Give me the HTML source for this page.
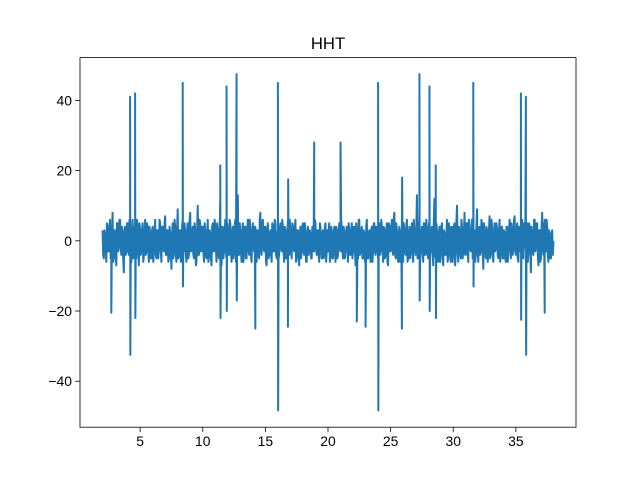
<!DOCTYPE html>
<html><head><meta charset="utf-8"><style>
html,body{margin:0;padding:0;background:#fff;}
svg{display:block;font-family:"Liberation Sans","DejaVu Sans",sans-serif;}
</style></head><body>
<svg id="chart" width="640" height="480">
<rect width="640" height="480" fill="#fff"/>
<text x="328" y="49" text-anchor="middle" font-size="16.7">HHT</text>
<g id="plot"></g>
<rect x="80" y="57.6" width="496" height="369.6" fill="none" stroke="#000" stroke-width="0.8"/>
<g id="xticks"></g><g id="yticks"></g>
</svg>
<script>
const noiseStart = 2.0;
const noiseStep = 0.1;
const noiseValues = [
3,-5,2,-6,4,-3,6,-4,8,-5,3,-7,5,-2,6,-4,2,-9,4,-3,
5,-4,3,-6,6,-3,2,-5,4,-7,3,-2,5,-4,6,-3,4,-6,2,-5,
4,-3,6,-5,3,-2,5,-6,4,-3,7,-4,3,-5,2,-8,5,-3,4,-6,
9,-4,3,-5,6,-3,2,-6,5,-4,8,-3,4,-5,3,-6,10,-4,5,-3,
4,-6,3,-5,6,-4,2,-7,5,-3,4,-6,3,-5,12,-7,4,-3,6,-5,
3,-4,5,-6,4,-3,6,-5,13,-4,3,-6,5,-3,4,-5,6,-4,3,-6,
5,-3,4,-6,3,-5,8,-4,6,-3,4,-7,5,-4,3,-6,4,-3,5,-5,
3,-4,5,-3,4,-6,3,-5,6,-4,2,-5,4,-3,6,-5,3,-7,4,-3,
5,-4,3,-6,4,-3,2,-5,4,-3,5,-4,3,-6,4,-5,3,-4,5,-3,
-3,5,-4,3,-5,4,-6,3,-4,5,-3,4,-5,2,-3,4,-6,3,-4,5,
-3,4,-7,3,-5,6,-3,4,-5,2,-4,6,-5,3,-6,4,-3,5,-4,3,
-5,5,-3,4,-6,3,-4,5,-7,4,-3,6,-4,8,-5,3,-6,4,-3,5,
-6,3,-4,6,-5,4,-3,5,-6,3,-4,13,-5,6,-3,4,-6,5,-4,3,
-5,6,-3,4,-7,12,-5,3,-6,4,-3,5,-7,2,-4,6,-5,3,-6,4,
-3,5,-4,10,-6,3,-5,4,-3,8,-4,5,-6,2,-3,6,-5,3,-4,9,
-6,4,-3,5,-8,2,-5,3,-4,7,-3,4,-6,5,-2,3,-5,6,-3,4,
-5,2,-6,4,-3,6,-5,3,-2,7,-4,5,-6,2,-3,6,-5,3,-4,5,
-3,4,-9,2,-4,6,-2,5,-7,3,-5,8,-4,6,-3,4,-6,2,-5,3,0
];
const noise2Start = 2.05;
const noise2Values = [
-4,3,-2,5,-3,4,-5,2,-6,3,-4,5,-3,6,-2,4,-5,3,-4,5,
-3,6,-4,2,-5,4,-3,6,-2,5,-4,3,-6,2,-4,5,-3,4,-5,3,
-6,2,-4,3,-5,6,-3,4,-2,5,-4,3,-6,4,-3,2,-5,6,-4,3,
-5,3,-6,4,-2,5,-4,3,-5,6,-3,2,-4,5,-7,3,-4,6,-3,4,
-3,5,-4,2,-6,3,-5,4,-3,6,-2,5,-4,3,-6,4,-5,2,-3,5,
-4,6,-3,2,-5,4,-6,3,-4,5,-3,2,-6,4,-5,3,-2,6,-4,3,
-2,4,-5,3,-4,6,-3,5,-2,4,-6,3,-5,2,-4,5,-3,6,-4,2,
-5,3,-2,6,-3,4,-5,2,-4,6,-3,5,-2,4,-6,3,-4,2,-5,4,
-3,5,-6,2,-4,3,-5,4,-3,6,-2,3,-4,5,-3,2,-5,4,-6,3,
3,-6,4,-5,2,-3,4,-5,3,-2,6,-3,4,-5,3,-2,5,-4,3,-5,
4,-2,5,-3,6,-4,2,-5,3,-6,4,-5,2,-4,3,-6,5,-3,4,-2,
3,-4,6,-2,4,-5,3,-6,5,-3,4,-2,6,-3,5,-4,2,-6,3,-4,
5,-3,4,-6,2,-5,3,-4,6,-2,3,-5,4,-6,2,-3,5,-4,6,-3,
4,-5,3,-2,6,-4,5,-3,2,-6,4,-5,3,-4,2,-6,5,-3,4,-6,
4,-7,5,-2,4,-3,6,-5,2,-4,5,-3,6,-2,4,-5,3,-6,4,-3,
3,-4,6,-3,5,-2,4,-6,3,-5,6,-4,2,-3,5,-4,3,-6,4,-5,
3,-5,4,-6,3,-2,5,-4,6,-3,2,-5,4,-3,6,-4,5,-2,3,-6,
5,-3,4,-2,6,-3,5,-4,3,-6,4,-2,5,-3,6,-4,3,-5,2,-4
];
const spikeTimes  = [2.7,4.2,4.22,4.6,4.62,8.4,8.42,11.4,11.42,11.9,11.92,12.7,12.72,14.2,16.0,16.02,16.8,16.82,18.9,21.0,22.3,23.0,24.0,24.02,25.9,25.92,27.3,27.32,28.1,28.12,28.6,28.62,31.6,31.62,35.4,35.42,35.8,35.82,37.3];
const spikeValues = [-20.5,41,-32.5,42,-22,45,-13,21.5,-22,44,-20,47.5,-17,-25,45,-48.3,-24.5,17.5,28,28,-23,-24.5,45,-48.3,-25,18,47.5,-17,44,-20,21.5,-22,45,-13,42,-22.5,41,-32.5,-20.5];
const xTicks = [5,10,15,20,25,30,35];
const yTicks = [-40,-20,0,20,40];

const X0=80,X1=576,Y0=57.6,Y1=427.2, xmin=0.2,xmax=39.8,ymin=-53.1,ymax=52.2;
const sx=v=>X0+(v-xmin)/(xmax-xmin)*(X1-X0);
const sy=v=>Y1-(v-ymin)/(ymax-ymin)*(Y1-Y0);
const NS="http://www.w3.org/2000/svg";
let pts=noiseValues.map((v,i)=>[noiseStart+i*noiseStep,v]);
noise2Values.forEach((v,i)=>pts.push([noise2Start+i*noiseStep,v]));
spikeTimes.forEach((t,i)=>pts.push([t,spikeValues[i]]));
pts.sort((a,b)=>a[0]-b[0]);
const path=document.createElementNS(NS,"path");
path.setAttribute("d",pts.map((p,i)=>(i?"L":"M")+sx(p[0]).toFixed(2)+" "+sy(p[1]).toFixed(2)).join(""));
path.setAttribute("fill","none");path.setAttribute("stroke","#1f77b4");path.setAttribute("stroke-width","2");path.setAttribute("stroke-linejoin","round");


document.getElementById("plot").appendChild(path);
const xg=document.getElementById("xticks");
xTicks.forEach(t=>{
  const l=document.createElementNS(NS,"line");
  l.setAttribute("x1",sx(t));l.setAttribute("x2",sx(t));l.setAttribute("y1",Y1);l.setAttribute("y2",Y1+4.9);l.setAttribute("stroke","#000");l.setAttribute("stroke-width","0.8");
  
  
  xg.appendChild(l);
  const tx=document.createElementNS(NS,"text");
  tx.setAttribute("x",sx(t));tx.setAttribute("y",Y1+19);tx.setAttribute("text-anchor","middle");tx.setAttribute("font-size","13.9");tx.textContent=t;
  
  
  xg.appendChild(tx);
});
const yg=document.getElementById("yticks");
yTicks.forEach(t=>{
  const l=document.createElementNS(NS,"line");
  l.setAttribute("x1",X0-4.9);l.setAttribute("x2",X0);l.setAttribute("y1",sy(t));l.setAttribute("y2",sy(t));l.setAttribute("stroke","#000");l.setAttribute("stroke-width","0.8");
  
  
  yg.appendChild(l);
  const tx=document.createElementNS(NS,"text");
  tx.setAttribute("x",X0-8);tx.setAttribute("y",sy(t)+5);tx.setAttribute("text-anchor","end");tx.setAttribute("font-size","13.9");tx.textContent=t<0?"\u2212"+(-t):t;
  
  
  yg.appendChild(tx);
});
</script>
</body></html>
